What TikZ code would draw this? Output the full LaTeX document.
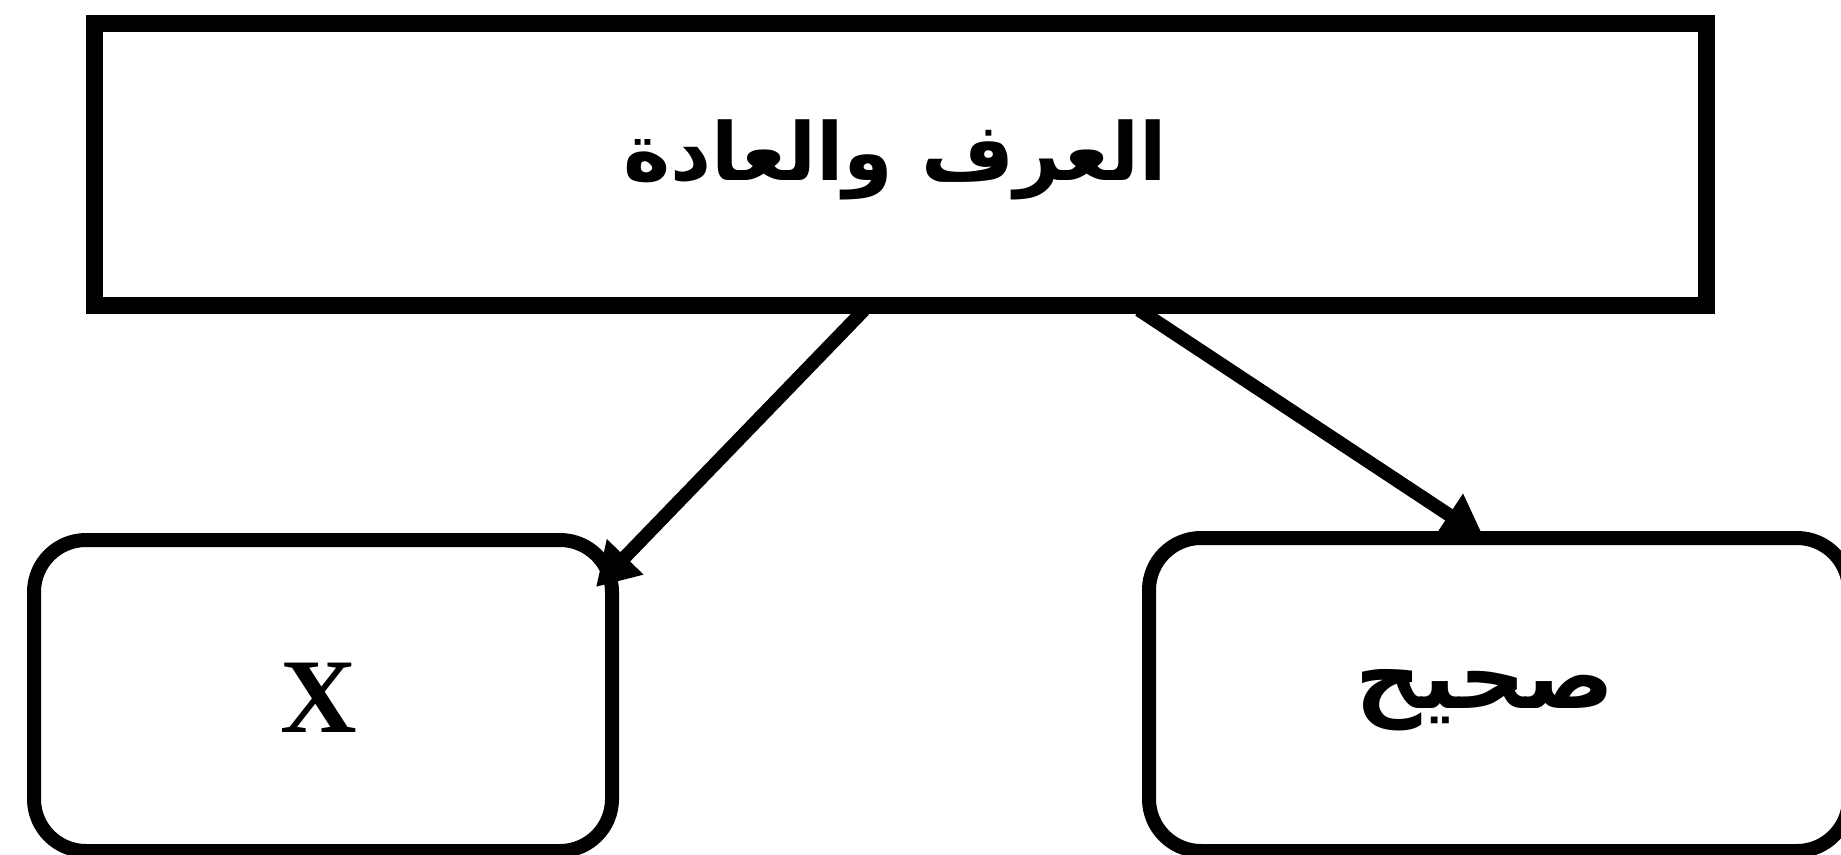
\documentclass[tikz,border=0pt]{standalone}
\usepackage{fontspec}
\setmainfont{Liberation Serif}
\newfontfamily\arabicfont[Script=Arabic]{DejaVu Sans}
\TeXXeTstate=1
\usetikzlibrary{arrows.meta,calc}
\begin{document}
\begin{tikzpicture}[x=1pt,y=-1pt,
  topbox/.style={draw=black,line width=17pt,minimum width=1612pt,minimum height=282pt,inner sep=0pt},
  subbox/.style={draw=black,line width=14pt,rounded corners=52pt,inner sep=0pt},
  arr/.style={line width=13.5pt,-{Triangle[length=42pt,width=48pt]}},
  artext/.style={font=\arabicfont\bfseries\fontsize{80}{90}\selectfont},
  latext/.style={font=\bfseries\fontsize{106}{116}\selectfont}]
\useasboundingbox[fill=white] (0,0) rectangle (1841,854);
\node[topbox] (top) at (900.5,164.5) {};
\node[artext] (toptxt) at (895,160) {\beginR العرف والعادة\endR};
\node[subbox,minimum width=578pt,minimum height=311pt] (left) at (323,695.5) {};
\node[latext] (ltxt) at (319,698) {X};
\node[subbox,minimum width=700pt,minimum height=313pt] (right) at (1499,694.5) {};
\node[artext,font=\arabicfont\bfseries\fontsize{92}{100}\selectfont] (rtxt) at (1485,700) {\beginR صحيح\endR};
\coordinate (s1) at ($(top.south west)+(778,-4)$);
\coordinate (e1) at ($(left.north east)+(-23,54)$);
\coordinate (s2) at ($(top.south west)+(1053,-4)$);
\coordinate (e2) at ($(right.north west)+(342,7)$);
\draw[arr] (s1) -- (e1);
\draw[arr] (s2) -- (e2);
\end{tikzpicture}
\end{document}
